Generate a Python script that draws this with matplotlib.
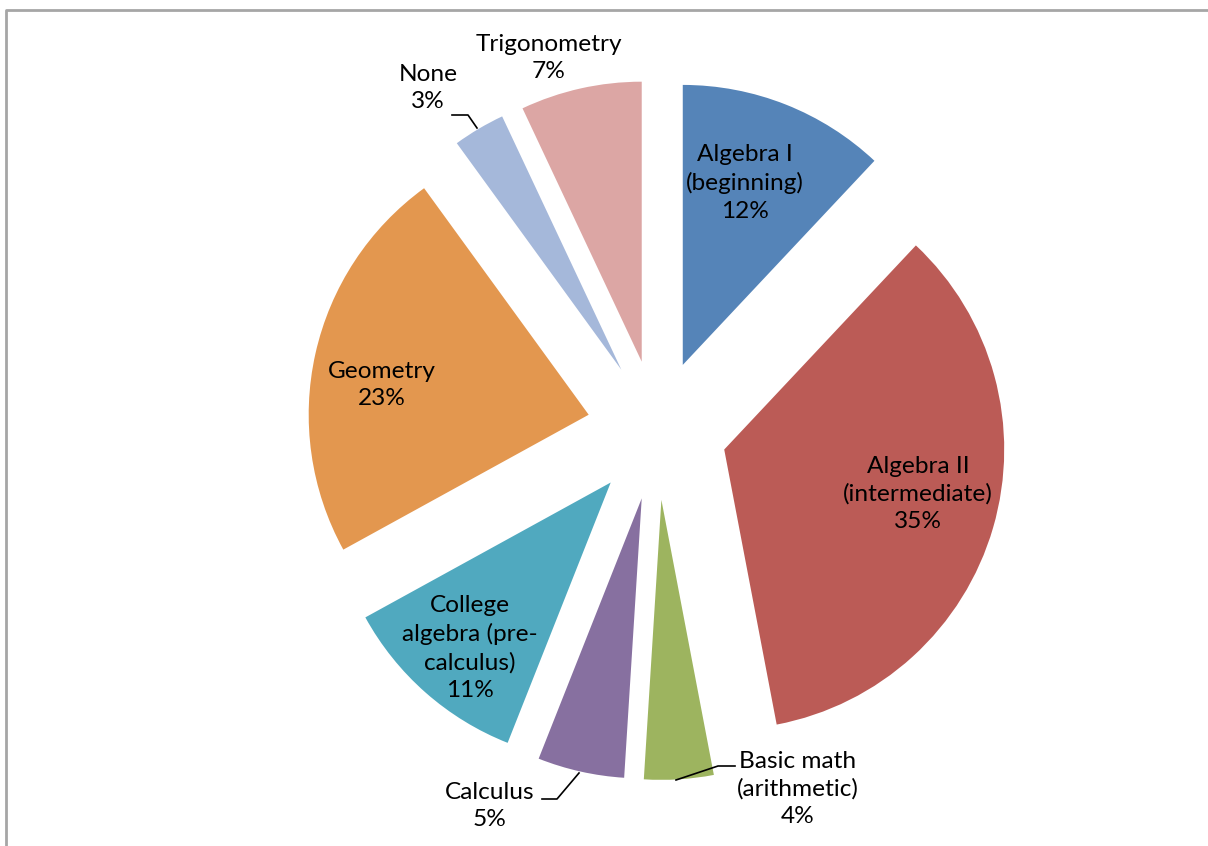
import matplotlib.pyplot as plt

W, H = 1208, 846

categories = ['Algebra I\n(beginning)', 'Algebra II\n(intermediate)', 'Basic math\n(arithmetic)',
              'Calculus', 'College\nalgebra (pre-\ncalculus)', 'Geometry', 'None', 'Trigonometry']
shares = [12, 35, 4, 5, 11, 23, 3, 7]
colors = ['#5584B8', '#BB5B56', '#9DB45F', '#8770A0', '#50A9BF', '#E3974F', '#A5B8DA', '#DCA6A4']

# label centres in pixels (from top-left) and leader lines
label_pos = [(745, 183), (918, 494), (798, 789), (490, 806), (470, 648), (382, 385), (428, 88), (549, 58)]
leaders = {
    2: [(735, 766), (718, 766), (676, 780)],
    3: [(542, 799), (557, 799), (579, 773)],
    6: [(452, 115), (468, 115), (477, 128)],
}

plt.rcParams['font.family'] = ['Lato', 'DejaVu Sans']

fig = plt.figure(figsize=(W / 100, H / 100), dpi=100)
ax = fig.add_axes([0, 0, 1, 1])

radius = 280
ax.pie(shares, colors=colors, startangle=90, counterclock=False,
       center=(657, H - 430), radius=radius, explode=[0.25 * radius] * len(shares),
       wedgeprops=dict(linewidth=0), frame=True)
ax.set_xlim(0, W)
ax.set_ylim(0, H)
ax.set_aspect('equal')
ax.axis('off')

for i, (name, val) in enumerate(zip(categories, shares)):
    x, y = label_pos[i]
    ax.text(x, H - y, f'{name}\n{val}%', ha='center', va='center',
            fontsize=17.6, color='black', linespacing=1.38)

for pts in leaders.values():
    ax.plot([p[0] for p in pts], [H - p[1] for p in pts], color='black', lw=1.2)

# chart border
ax.plot([6, 6, W + 5], [-5, H - 10, H - 10], color='#A6A6A6', lw=2, clip_on=False)

fig.savefig('out.png', dpi=100)
